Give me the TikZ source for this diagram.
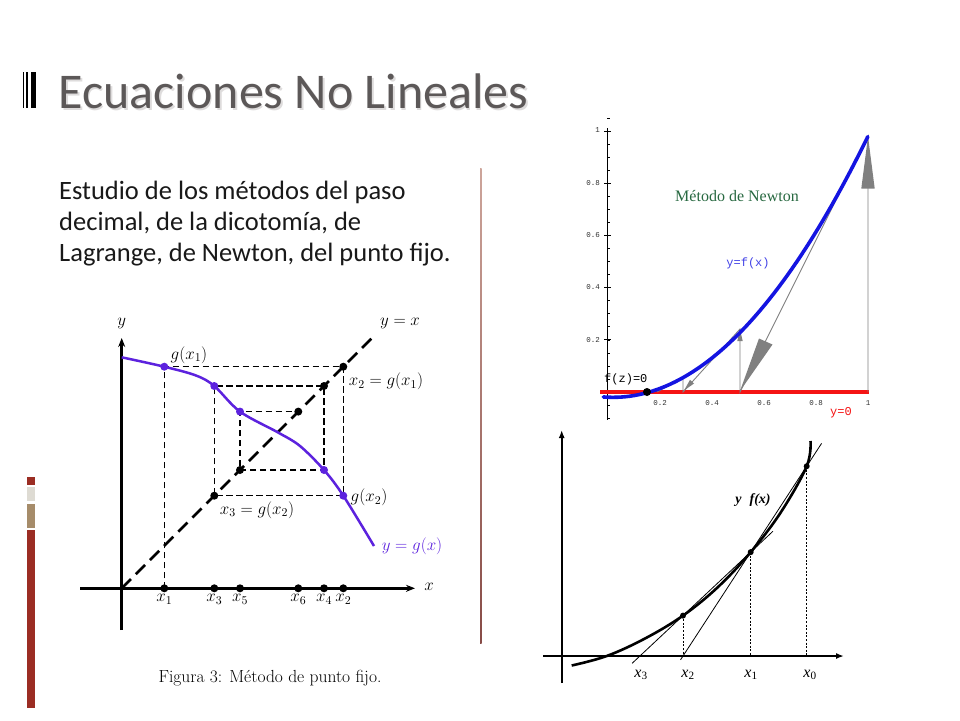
\RequirePackage{fix-cm}
\documentclass[tikz,border=0pt]{standalone}
\usepackage{fontspec}
\newfontfamily\carlito{Carlito}
\newfontfamily\monof{Liberation Mono}
\newfontfamily\timesf{Liberation Serif}
\usetikzlibrary{arrows.meta,calc}
\definecolor{titlegray}{RGB}{92,88,88}
\definecolor{shadowgray}{RGB}{222,220,220}
\definecolor{bodyblack}{RGB}{25,25,25}
\definecolor{civred}{RGB}{155,45,35}
\definecolor{civlight}{RGB}{222,219,211}
\definecolor{civtan}{RGB}{166,140,106}
\definecolor{divtop}{RGB}{205,165,155}
\definecolor{divbot}{RGB}{135,75,70}
\definecolor{pcol}{RGB}{92,34,222}
\definecolor{nblue}{RGB}{20,20,225}
\definecolor{nred}{RGB}{245,20,20}
\definecolor{ngray}{RGB}{128,128,128}
\definecolor{ngreen}{RGB}{40,105,65}
\definecolor{labgray}{RGB}{50,50,50}
\begin{document}
\begin{tikzpicture}[x=1pt,y=-1pt,
  dot/.style={circle,fill=black,inner sep=0pt,minimum size=8pt},
  pdot/.style={circle,fill=pcol,inner sep=0pt,minimum size=8pt},
  guide/.style={line width=1.5pt,dash pattern=on 6.5pt off 3.5pt},
  diag/.style={line width=2.6pt,dash pattern=on 13pt off 7pt},
  axisL/.style={line width=2.8pt,-{Stealth[length=9pt,width=7pt]}},
  mlab/.style={font=\fontsize{17}{20}\selectfont,inner sep=1pt},
  ticklab/.style={font=\monof\fontsize{7.5}{8}\selectfont,text=labgray,inner sep=0pt},
  nline/.style={draw=ngray,line width=0.9pt},
  sdot/.style={circle,fill=black,inner sep=0pt,minimum size=6pt},
  axisR/.style={line width=2pt,-{Latex[length=8pt,width=6pt]}},
  slab/.style={font=\timesf\itshape\fontsize{16}{18}\selectfont,inner sep=0pt}]
\useasboundingbox (0,0) rectangle (960,720);
\fill[white] (0,0) rectangle (960,720);

% ---------- title ----------
\fill (22.7,71.7) rectangle (24.3,108.3);
\fill (25.7,71.7) rectangle (28.3,108.3);
\fill (30.7,71.7) rectangle (36,108.3);
\node[anchor=base west,inner sep=0pt,text=shadowgray,font=\carlito\fontsize{50}{60}\selectfont] (tshadow) at (60,110) {Ecuaciones No Lineales};
\node[anchor=base west,inner sep=0pt,text=titlegray,font=\carlito\fontsize{50}{60}\selectfont] (title) at (58.5,108.5) {Ecuaciones No Lineales};

% ---------- left decoration ----------
\fill[civred] (26.7,476.7) rectangle (35,485);
\fill[civlight] (26.7,486.7) rectangle (35,500.7);
\fill[civtan] (26.7,504) rectangle (35,528.3);
\fill[civred] (26.7,530) rectangle (35,708.3);

% ---------- body text ----------
\node[anchor=base west,inner sep=0pt,text=bodyblack,font=\carlito\fontsize{26.5}{31.2}\selectfont,align=left] (body) at (59,261.5)
 {Estudio de los métodos del paso\\decimal, de la dicotomía, de\\Lagrange, de Newton, del punto fijo.};

% ---------- divider ----------
\shade[top color=divtop,bottom color=divbot] (480,168) rectangle (481.6,643);

% ---------- fixed point graph ----------
\coordinate (O) at (121.7,588.3);
\coordinate (X1) at (164.3,588.3);
\coordinate (X3) at (214.3,588.3);
\coordinate (X5) at (240,588.3);
\coordinate (X6) at (298.3,588.3);
\coordinate (X4) at (324,588.3);
\coordinate (X2) at (343.3,588.3);
\coordinate (G1) at (164.3,366.7);
\coordinate (D2) at (343.3,366.7);
\coordinate (G2) at (343.3,495.7);
\coordinate (D3) at (214.3,495.7);
\coordinate (G3) at (214.3,386);
\coordinate (D4) at (324,386);
\coordinate (G4) at (324,470);
\coordinate (D5) at (240,470);
\coordinate (G5) at (240,411.6);
\coordinate (D6) at (298.3,411.6);

\draw[axisL] (121.7,630) -- (121.7,338);
\draw[axisL] (80,588.3) -- (415,588.3);
\draw[diag] (O) -- (375,335);

\draw[guide] (X1) -- (G1) -- (D2) -- (G2) -- (D3) -- (G3) -- (D4) -- (G4) -- (D5) -- (G5) -- (D6);

\draw[pcol,line width=2.5pt] plot[smooth,tension=0.55] coordinates {
 (121.7,357.3) (164.3,366.7) (196,375.5) (214.3,386) (240,411.6) (278.3,432.6) (300,446) (324,470) (343.3,495.7) (374,546)};

\foreach \p in {X1,X3,X5,X6,X4,X2,D2,D3,D4,D5,D6} \node[dot] at (\p) {};
\foreach \p in {G1,G2,G3,G4,G5} \node[pdot] at (\p) {};

\node[mlab] (ly) at (121.7,323) {$y$};
\node[mlab] (lx) at (429,587) {$x$};
\node[mlab] (lyx) at (400,323) {$y = x$};
\node[mlab] (lg1) at (189,355) {$g(x_1)$};
\node[mlab] (lx2) at (386,381.7) {$x_2 = g(x_1)$};
\node[mlab] (lg2) at (369,497.3) {$g(x_2)$};
\node[mlab] (lx3) at (257,510) {$x_3 = g(x_2)$};
\node[mlab,text=pcol] (lgx) at (412,546.7) {$y = g(x)$};
\node[mlab,anchor=north] (l1) at (164.3,593) {$x_1$};
\node[mlab,anchor=north] (l3) at (214.3,593) {$x_3$};
\node[mlab,anchor=north] (l5) at (240,593) {$x_5$};
\node[mlab,anchor=north] (l6) at (298.3,593) {$x_6$};
\node[mlab,anchor=north] (l4) at (324,593) {$x_4$};
\node[mlab,anchor=north] (l2) at (343.3,593) {$x_2$};
\node[font=\fontsize{17.5}{20}\selectfont,inner sep=0pt] (cap) at (270,678) {Figura 3: Método de punto fijo.};

% ---------- Newton graph (top right) ----------
\draw[black,line width=0.8pt] (607,128) -- (607,420);
\foreach \k in {0,...,21} \draw[black,line width=0.6pt] (607,{392-13.05*\k}) -- (609.5,{392-13.05*\k});
\foreach \k in {1,...,5} \draw[black,line width=0.7pt] (604,{392-52.2*\k}) -- (611,{392-52.2*\k});
\foreach \k in {1,2} \draw[black,line width=0.6pt] (607,{392+13.05*\k}) -- (609.5,{392+13.05*\k});
\node[ticklab,anchor=east] (ty1) at (600,130) {1};
\node[ticklab,anchor=east] (ty8) at (600,182.6) {0.8};
\node[ticklab,anchor=east] (ty6) at (600,235) {0.6};
\node[ticklab,anchor=east] (ty4) at (600,287) {0.4};
\node[ticklab,anchor=east] (ty2) at (600,339.6) {0.2};
\node[ticklab] (tx2) at (660,403) {0.2};
\node[ticklab] (tx4) at (712,403) {0.4};
\node[ticklab] (tx6) at (764,403) {0.6};
\node[ticklab] (tx8) at (816,403) {0.8};
\node[ticklab] (tx1) at (868,403) {1};

\draw[nred,line width=4pt] (600,392) -- (869,392);

% gray Newton construction
\coordinate (N0) at (868,392);
\coordinate (F0) at (868,136);
\coordinate (N1) at (740,392);
\coordinate (F1) at (740,329);
\coordinate (N2) at (683,392);
\coordinate (F2) at (683,377.6);
\coordinate (N3) at (657,392);
\draw[nline] (N0) -- (F0) -- (N1) -- (F1) -- (N2) -- (F2) -- (N3);
\fill[ngray] (868,136.5) -- (861.3,188.5) -- (874.7,188.5) -- cycle;
\fill[ngray] (740,391) -- (759,338.5) -- (772.5,344.5) -- cycle;
\fill[ngray] (740,329.5) -- (737.3,341) -- (742.7,341) -- cycle;
\fill[ngray] (684,390.5) -- (694,383.5) -- (690,379.8) -- cycle;

\draw[nblue,line width=3.6pt,line cap=round] plot[domain=-0.018:1,samples=60] ({608+260*\x},{392-261*(1.04*\x*\x-0.04*\x-0.02)});
\node[circle,fill=black,inner sep=0pt,minimum size=8pt] (zdot) at (647,392) {};

\node[font=\monof\fontsize{12}{14}\selectfont,inner sep=0pt,anchor=west] (fz) at (604,379) {f(z)=0};
\node[font=\monof\fontsize{12}{14}\selectfont,inner sep=0pt,text=nred] (y0) at (841,413) {y=0};
\node[font=\monof\fontsize{12}{14}\selectfont,inner sep=0pt,text=nblue!80!white] (yfx) at (748,263) {y=f(x)};
\node[font=\timesf\fontsize{16}{19}\selectfont,inner sep=0pt,text=ngreen] (nt) at (737,196) {Método de Newton};

% ---------- secant graph (bottom right) ----------
\draw[axisR] (561.7,683) -- (561.7,430);
\draw[axisR] (543,656) -- (844,656);
\coordinate (P0) at (806.7,466.2);
\coordinate (P1) at (750.7,552.1);
\coordinate (P2) at (683,615.6);
\coordinate (Q0) at (806.7,656);
\coordinate (Q1) at (750.7,656);
\coordinate (Q2) at (683,656);
\coordinate (Q3) at (639.9,656);
\draw[line width=2.6pt] plot[smooth,tension=0.6] coordinates {
 (571.7,665.5) (606.7,656) (645,638.5) (683,615.6) (718,587) (750.7,552.1) (781,512) (806.7,466.2) (810.5,441)};
\draw[line width=0.8pt] ($(P0)!-0.12!(Q2)$) -- ($(Q2)!-0.02!(P0)$);
\draw[line width=0.8pt] ($(P1)!-0.2!(Q3)$) -- ($(Q3)!-0.07!(P1)$);
\draw[line width=0.9pt,dash pattern=on 2pt off 1.6pt] (P0) -- (Q0);
\draw[line width=0.9pt,dash pattern=on 2pt off 1.6pt] (P1) -- (Q1);
\draw[line width=0.9pt,dash pattern=on 2pt off 1.6pt] (P2) -- (Q2);
\foreach \p in {P0,P1,P2} \node[sdot] at (\p) {};
\node[slab] (s0) at (810,675) {x\textsubscript{\upshape 0}};
\node[slab] (s1) at (751,675) {x\textsubscript{\upshape 1}};
\node[slab] (s2) at (688,675) {x\textsubscript{\upshape 2}};
\node[slab] (s3) at (641,675) {x\textsubscript{\upshape 3}};
\node[slab,font=\timesf\bfseries\itshape\fontsize{14}{17}\selectfont] (yf) at (753,500) {y\hspace{8pt}f(x)};
\end{tikzpicture}
\end{document}
